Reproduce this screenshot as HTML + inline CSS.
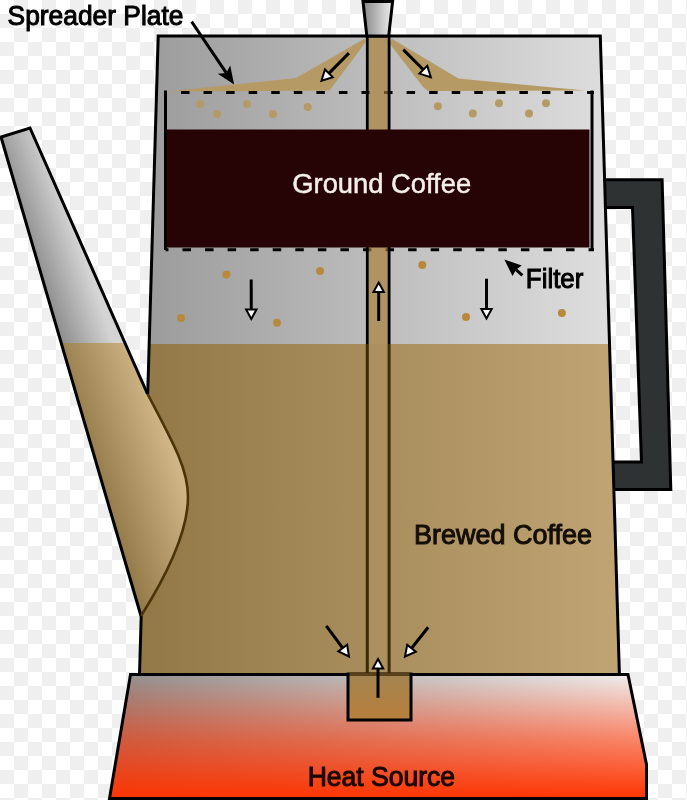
<!DOCTYPE html>
<html><head><meta charset="utf-8">
<style>
html,body{margin:0;padding:0;background:#fff;}
body{width:687px;height:800px;overflow:hidden;position:relative;}
svg{position:absolute;left:0;top:0;}
text{font-family:"Liberation Sans",sans-serif;}
</style></head>
<body>
<svg width="687" height="800" viewBox="0 0 687 800">
<defs>
  <pattern id="chk" x="0" y="0" width="28" height="28" patternUnits="userSpaceOnUse">
    <rect width="28" height="28" fill="#ffffff"/>
    <rect x="14" y="0" width="14" height="14" fill="#efefef"/>
    <rect x="0" y="14" width="14" height="14" fill="#efefef"/>
  </pattern>
  <linearGradient id="gray" x1="150" y1="0" x2="610" y2="0" gradientUnits="userSpaceOnUse">
    <stop offset="0" stop-color="#9c9c9c"/>
    <stop offset="1" stop-color="#dedede"/>
  </linearGradient>
  <linearGradient id="coffee" x1="140" y1="0" x2="620" y2="0" gradientUnits="userSpaceOnUse">
    <stop offset="0" stop-color="#937847"/>
    <stop offset="1" stop-color="#c0a474"/>
  </linearGradient>
  <linearGradient id="spoutgray" x1="113.2" y1="495.4" x2="160.5" y2="479.1" gradientUnits="userSpaceOnUse">
    <stop offset="0" stop-color="#8c8c8c"/>
    <stop offset="1" stop-color="#d4d4d4"/>
  </linearGradient>
  <linearGradient id="spoutcoffee" x1="100.9" y1="499.7" x2="179.4" y2="472.5" gradientUnits="userSpaceOnUse">
    <stop offset="0" stop-color="#937848"/>
    <stop offset="1" stop-color="#d0b686"/>
  </linearGradient>
  <linearGradient id="heath" x1="110" y1="0" x2="647" y2="0" gradientUnits="userSpaceOnUse">
    <stop offset="0" stop-color="#8e8e8e"/>
    <stop offset="1" stop-color="#f2f2f2"/>
  </linearGradient>
  <linearGradient id="heatv" x1="0" y1="674" x2="0" y2="800" gradientUnits="userSpaceOnUse">
    <stop offset="0" stop-color="#ff3300" stop-opacity="0"/>
    <stop offset="0.5" stop-color="#ff3300" stop-opacity="0.55"/>
    <stop offset="1" stop-color="#ff3300" stop-opacity="1"/>
  </linearGradient>
  <linearGradient id="well" x1="0" y1="674" x2="0" y2="720" gradientUnits="userSpaceOnUse">
    <stop offset="0" stop-color="#a48450"/>
    <stop offset="1" stop-color="#b87f3c"/>
  </linearGradient>
  <linearGradient id="nozzle" x1="0" y1="0" x2="1" y2="0">
    <stop offset="0" stop-color="#888"/>
    <stop offset="1" stop-color="#eee"/>
  </linearGradient>
  <clipPath id="spoutclip">
    <path d="M1,137 L30,128 L147.5,394 C175,446 188,470 188,497 C188,530 170,570 141,616 Z"/>
  </clipPath>
</defs>
<rect width="687" height="800" fill="url(#chk)"/>

<!-- heat source -->
<polygon points="130.5,674.5 628,674.5 646.5,764.5 646.5,798.5 109.5,798.5" fill="url(#heath)"/>
<polygon points="130.5,674.5 628,674.5 646.5,764.5 646.5,798.5 109.5,798.5" fill="url(#heatv)" stroke="#000" stroke-width="3"/>

<!-- handle -->
<polygon points="590,179.8 662.1,179.8 670.8,489.5 600,489.5 600,462.1 641.5,462.1 632.5,207.6 590,207.6" fill="#2f3233" stroke="#000" stroke-width="3" stroke-linejoin="miter"/>

<!-- pot body gray -->
<polygon points="158.2,36 600.3,36 619.4,674.5 139.5,674.5" fill="url(#gray)"/>

<!-- spreader plate -->
<polygon points="364.5,38.8 296,78 167.5,91.5 329.5,90.5 366.5,41" fill="#b59a66"/>
<polygon points="391.5,38.5 458.4,78.5 585,90.5 428,91 423,87 390,44" fill="#b59a66"/>

<!-- dots top -->
<g fill="#b59a66">
<circle cx="200" cy="104" r="4"/><circle cx="217" cy="114" r="4"/><circle cx="247" cy="104" r="4"/>
<circle cx="273" cy="114" r="4"/><circle cx="307.6" cy="107" r="4"/>
<circle cx="437.8" cy="106.3" r="4"/><circle cx="472.8" cy="113.5" r="4"/><circle cx="499" cy="103.3" r="4"/>
<circle cx="529" cy="113.5" r="4"/><circle cx="546" cy="103.3" r="4"/>
</g>
<!-- dots lower -->
<g fill="#b8893c">
<circle cx="226.4" cy="274.5" r="4"/><circle cx="320" cy="271" r="4"/><circle cx="181" cy="318" r="4"/><circle cx="277" cy="322.7" r="4"/>
<circle cx="422.3" cy="265" r="4"/><circle cx="466" cy="317" r="4"/><circle cx="561.9" cy="313" r="4"/>
</g>


<!-- filter lines -->
<path d="M165.5,90.5 V250" stroke="#000" stroke-width="3" fill="none"/>
<path d="M592,90.5 V250" stroke="#000" stroke-width="3" fill="none"/>
<path d="M165.5,92.5 H594" stroke="#000" stroke-width="3" stroke-dasharray="8.5 14.06" stroke-dashoffset="-15.5" fill="none"/>
<path d="M165.5,249.8 H594" stroke="#000" stroke-width="3" stroke-dasharray="8.5 14.06" stroke-dashoffset="-17" fill="none"/>
<!-- tube -->
<rect x="368.5" y="36" width="20" height="638" fill="#a77d33" fill-opacity="0.65"/>
<path d="M367.3,36 V344 M389.1,36 V344" stroke="#000" stroke-width="2.8" fill="none"/>
<!-- ground coffee box -->
<rect x="166.5" y="129.5" width="423" height="118" fill="#260304"/>

<!-- coffee -->
<polygon points="149.3,344 609.5,344 619.4,674.5 139.5,674.5" fill="url(#coffee)"/>
<rect x="368.5" y="344" width="20" height="330" fill="#ad9060"/>
<path d="M367.3,344 V674 M389.1,344 V674" stroke="#3d2a08" stroke-width="3" fill="none"/>

<!-- pot outline -->
<polygon points="158.2,36 600.3,36 619.4,674.5 139.5,674.5" fill="none" stroke="#000" stroke-width="3"/>

<!-- nozzle -->
<polygon points="363,1.5 392.6,1.5 388.7,36 366.8,36" fill="url(#nozzle)" stroke="#000" stroke-width="3"/>

<!-- spout -->
<path d="M1,137 L30,128 L147.5,394 C175,446 188,470 188,497 C188,530 170,570 141,616 Z" fill="url(#spoutgray)"/>
<rect x="0" y="343" width="200" height="300" fill="url(#spoutcoffee)" clip-path="url(#spoutclip)"/>
<path d="M141,616 L1,137 L30,128 L147.5,394" fill="none" stroke="#000" stroke-width="3" stroke-linejoin="miter"/>
<path d="M147.5,394 C175,446 188,470 188,497 C188,530 170,570 141,616" fill="none" stroke="#4a3408" stroke-width="2.6"/>

<!-- well -->
<rect x="348" y="674" width="63" height="46" fill="url(#well)" stroke="#000" stroke-width="3"/>
<path d="M349.5,674 H409.5" stroke="#5a4018" stroke-width="3"/>

<path d="M191.60,21.60 L226.26,72.90" stroke="#000" stroke-width="3" fill="none"/>
<polygon points="234.10,84.50 217.81,73.78 226.26,72.90 230.24,65.39" fill="#000"/>
<path d="M522.40,275.30 L515.98,269.69" stroke="#000" stroke-width="3" fill="none"/>
<polygon points="504.30,259.50 521.71,265.41 515.98,269.69 512.50,275.95" fill="#000"/>
<path d="M348.90,53.10 L328.88,73.34" stroke="#000" stroke-width="3.0" fill="none"/>
<polygon points="321.50,80.80 324.97,69.47 332.79,77.20" fill="#fff" stroke="#000" stroke-width="2.0" stroke-linejoin="miter"/>
<path d="M403.30,49.60 L423.39,69.76" stroke="#000" stroke-width="3.0" fill="none"/>
<polygon points="430.80,77.20 419.49,73.64 427.29,65.88" fill="#fff" stroke="#000" stroke-width="2.0" stroke-linejoin="miter"/>
<path d="M251.20,279.40 L251.28,309.50" stroke="#000" stroke-width="3.0" fill="none"/>
<polygon points="251.30,319.00 246.08,309.51 256.48,309.49" fill="#fff" stroke="#000" stroke-width="2.0" stroke-linejoin="miter"/>
<path d="M486.50,278.70 L486.50,309.00" stroke="#000" stroke-width="3.0" fill="none"/>
<polygon points="486.50,318.50 481.30,309.00 491.70,309.00" fill="#fff" stroke="#000" stroke-width="2.0" stroke-linejoin="miter"/>
<path d="M378.70,321.00 L378.70,292.00" stroke="#000" stroke-width="3.0" fill="none"/>
<polygon points="378.70,282.50 383.90,292.00 373.50,292.00" fill="#fff" stroke="#000" stroke-width="2.0" stroke-linejoin="miter"/>
<path d="M326.30,625.90 L342.74,648.07" stroke="#000" stroke-width="3.0" fill="none"/>
<polygon points="349.00,656.50 338.33,651.34 347.16,644.79" fill="#fff" stroke="#000" stroke-width="2.0" stroke-linejoin="miter"/>
<path d="M428.20,627.30 L411.53,648.28" stroke="#000" stroke-width="3.0" fill="none"/>
<polygon points="405.00,656.50 407.23,644.86 415.84,651.70" fill="#fff" stroke="#000" stroke-width="2.0" stroke-linejoin="miter"/>
<path d="M378.00,697.80 L378.00,668.50" stroke="#000" stroke-width="3.0" fill="none"/>
<polygon points="378.00,659.00 383.20,668.50 372.80,668.50" fill="#fff" stroke="#000" stroke-width="2.0" stroke-linejoin="miter"/>

<g style="will-change:transform">
<text x="7.60" y="24.90" font-size="27" fill="#000" stroke="#000" stroke-width="1.0" textLength="175.80" lengthAdjust="spacingAndGlyphs">Spreader Plate</text>
<text x="292.30" y="193.00" font-size="27" fill="#f6eee8" stroke="#f6eee8" stroke-width="0.5" textLength="178.80" lengthAdjust="spacingAndGlyphs">Ground Coffee</text>
<text x="525.80" y="288.20" font-size="27" fill="#000" stroke="#000" stroke-width="1.0" textLength="57.60" lengthAdjust="spacingAndGlyphs">Filter</text>
<text x="414.00" y="544.00" font-size="27" fill="#140e06" stroke="#140e06" stroke-width="1.0" textLength="177.90" lengthAdjust="spacingAndGlyphs">Brewed Coffee</text>
<text x="307.70" y="786.00" font-size="27" fill="#1a0800" stroke="#1a0800" stroke-width="1.0" textLength="147.40" lengthAdjust="spacingAndGlyphs">Heat Source</text>
</g>
</svg>
</body></html>
